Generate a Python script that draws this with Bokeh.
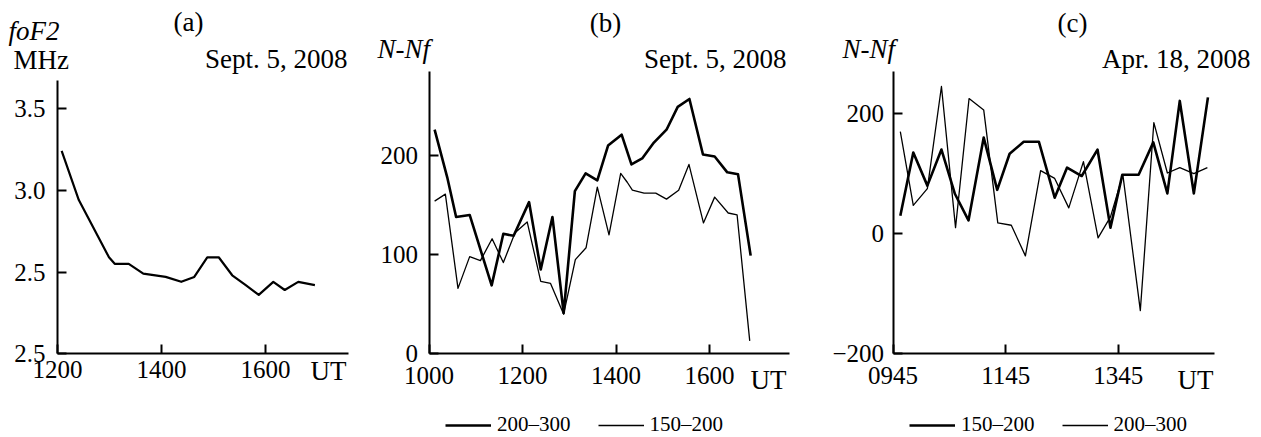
from bokeh.plotting import figure
from bokeh.layouts import row
from bokeh.models import Label, Legend, LegendItem, FixedTicker, Range1d
from bokeh.embed import file_html
from bokeh.resources import INLINE

FONT = "Liberation Serif"

# ---------------- data ----------------
# Panel (a): foF2, Sept. 5, 2008 (time in decimal hours UT)
a_time = [12.08, 12.41, 12.99, 13.10, 13.37, 13.65, 14.08, 14.38, 14.63, 14.88,
          15.10, 15.36, 15.62, 15.87, 16.15, 16.37, 16.63, 16.95]
a_fof2 = [3.24, 2.94, 2.59, 2.55, 2.55, 2.49, 2.47, 2.44, 2.47, 2.59,
          2.59, 2.48, 2.42, 2.36, 2.44, 2.39, 2.44, 2.42]
a_xticks = [12, 14, 16]
a_xlabels = ["1200", "1400", "1600"]
a_yticks = [2.0, 2.5, 3.0, 3.5]
a_ylabels = ["2.5", "2.5", "3.0", "3.5"]

# Panel (b): N-Nf, Sept. 5, 2008
b_time_200_300 = [10.12, 10.39, 10.58, 10.87, 11.34, 11.59, 11.81, 12.14, 12.39, 12.64,
                  12.88, 13.12, 13.35, 13.60, 13.83, 14.12, 14.33, 14.56, 14.81, 15.08,
                  15.32, 15.57, 15.86, 16.11, 16.38, 16.61, 16.88]
b_val_200_300 = [226, 178, 138, 140, 69, 121, 119, 153, 85, 138,
                 41, 164, 182, 175, 210, 221, 191, 197, 213, 226,
                 249, 257, 201, 199, 183, 181, 99]
b_time_150_200 = [10.12, 10.35, 10.62, 10.87, 11.10, 11.35, 11.59, 11.84, 12.10, 12.39,
                  12.60, 12.88, 13.13, 13.36, 13.60, 13.85, 14.10, 14.24, 14.35, 14.60,
                  14.85, 15.08, 15.34, 15.56, 15.87, 16.11, 16.40, 16.59, 16.86]
b_val_150_200 = [154, 161, 66, 98, 94, 116, 92, 122, 133, 73,
                 71, 40, 95, 107, 168, 120, 182, 173, 165, 162,
                 162, 156, 165, 191, 132, 158, 142, 140, 13]
b_xticks = [10, 12, 14, 16]
b_xlabels = ["1000", "1200", "1400", "1600"]
b_yticks = [0, 100, 200]
b_ylabels = ["0", "100", "200"]

# Panel (c): N-Nf, Apr. 18, 2008
c_time_150_200 = [9.88, 10.11, 10.36, 10.61, 10.85, 11.09, 11.36, 11.60, 11.82, 12.07,
                  12.34, 12.62, 12.84, 13.10, 13.38, 13.61, 13.82, 14.11, 14.37, 14.62,
                  14.84, 15.09, 15.34]
c_val_150_200 = [30, 135, 80, 140, 66, 22, 160, 73, 133, 153,
                 153, 60, 110, 96, 140, 10, 98, 98, 152, 67,
                 221, 67, 227]
c_time_200_300 = [9.88, 10.11, 10.36, 10.61, 10.86, 11.10, 11.36, 11.61, 11.85, 12.10,
                  12.37, 12.62, 12.87, 13.13, 13.39, 13.61, 13.83, 14.14, 14.38, 14.62,
                  14.84, 15.09, 15.33]
c_val_200_300 = [170, 47, 75, 245, 10, 225, 206, 18, 14, -37,
                 105, 92, 43, 120, -7, 28, 98, -128, 185, 101,
                 110, 100, 110]
c_xticks = [9.75, 11.75, 13.75]
c_xlabels = ["0945", "1145", "1345"]
c_yticks = [-200, 0, 200]
c_ylabels = ["\u2212200", "0", "200"]

THICK = 2.6
THIN = 1.3
FIG_H = 437
TEXT_SHIFT = 9   # compensates the renderer's baseline placement


def make_fig(width, xb, yb, px_left, px_right, px_top, px_bottom):
    """Figure whose frame fills the canvas; axes are placed at the data origin
    and bounded, so that the axis box occupies [px_left, px_right] x [px_top, px_bottom]."""
    sx = (px_right - px_left) / (xb[1] - xb[0])
    sy = (px_bottom - px_top) / (yb[1] - yb[0])
    xs = xb[0] - px_left / sx
    ys = yb[0] - (FIG_H - px_bottom) / sy
    p = figure(width=width, height=FIG_H,
               x_range=Range1d(xs, xs + width / sx), y_range=Range1d(ys, ys + FIG_H / sy),
               min_border=0, output_backend="svg", toolbar_location=None)
    p.outline_line_color = None
    p.xgrid.visible = False
    p.ygrid.visible = False
    p.xaxis.fixed_location = yb[0]
    p.yaxis.fixed_location = xb[0]
    p.xaxis.bounds = xb
    p.yaxis.bounds = yb
    return p


def style(p, xticks, xlabels, yticks, ylabels, xstand, ystand):
    for ax in (p.xaxis[0], p.yaxis[0]):
        ax.axis_line_width = 2
        ax.axis_line_color = "black"
        ax.major_tick_line_width = 2
        ax.major_tick_line_color = "black"
        ax.major_tick_in = 9
        ax.major_tick_out = 0
        ax.minor_tick_line_color = None
        ax.major_label_text_font = FONT
        ax.major_label_text_font_size = "25px"
        ax.major_label_text_color = "black"
    p.xaxis[0].ticker = FixedTicker(ticks=xticks)
    p.xaxis[0].major_label_overrides = {t: l for t, l in zip(xticks, xlabels)}
    p.yaxis[0].ticker = FixedTicker(ticks=yticks)
    p.yaxis[0].major_label_overrides = {t: l for t, l in zip(yticks, ylabels)}
    p.xaxis[0].major_label_standoff = xstand
    p.yaxis[0].major_label_standoff = ystand


def txt(p, x, y_top, text, size="27px", align="left", italic=False):
    p.add_layout(Label(x=x, y=FIG_H - y_top + TEXT_SHIFT, x_units="screen", y_units="screen",
                       text=text, text_font=FONT, text_font_size=size, text_align=align,
                       text_baseline="alphabetic", text_color="black",
                       text_font_style="italic" if italic else "normal"))


def legend(p, items, x):
    lg = Legend(items=[LegendItem(label=l, renderers=[r]) for l, r in items],
                orientation="horizontal", location=(x, 0))
    lg.background_fill_alpha = 0
    lg.border_line_alpha = 0
    lg.glyph_width = 46
    lg.glyph_height = 20
    lg.label_height = 20
    lg.label_standoff = 6
    lg.spacing = 27
    lg.padding = 0
    lg.margin = 0
    lg.label_text_font = FONT
    lg.label_text_font_size = "21px"
    lg.label_text_color = "black"
    p.add_layout(lg, "center")


# ---------------- panel (a) ----------------
fa = make_fig(365, (12, 17.6), (2.0, 3.67), 57, 348.2, 80.1, 353.3)
fa.line(a_time, a_fof2, line_color="black", line_width=2.2, line_join="round")
style(fa, a_xticks, a_xlabels, a_yticks, a_ylabels, 7, 12)
txt(fa, 188, 30, "(a)", align="center")
txt(fa, 8, 39, "foF2", italic=True)
txt(fa, 13, 68, "MHz")
txt(fa, 347, 67.5, "Sept. 5, 2008", align="right")
txt(fa, 328, 379, "UT", align="center")

# ---------------- panel (b) ----------------
fb = make_fig(455, (10, 17.7), (0, 284.7), 63.5, 423.5, 71, 353.3)
rb1 = fb.line(b_time_200_300, b_val_200_300, line_color="black", line_width=THICK, line_join="round")
rb2 = fb.line(b_time_150_200, b_val_150_200, line_color="black", line_width=THIN, line_join="round")
style(fb, b_xticks, b_xlabels, b_yticks, b_ylabels, 13, 11)
txt(fb, 240, 31, "(b)", align="center")
txt(fb, 12, 57, "N-Nf", italic=True)
txt(fb, 421, 67, "Sept. 5, 2008", align="right")
txt(fb, 403, 388, "UT", align="center")
legend(fb, [("200\u2013300", rb1), ("150\u2013200", rb2)], 80)

# ---------------- panel (c) ----------------
fc = make_fig(441, (9.75, 15.46), (-200, 270), 72.5, 394.2, 71, 353.3)
rc1 = fc.line(c_time_150_200, c_val_150_200, line_color="black", line_width=THICK, line_join="round")
rc2 = fc.line(c_time_200_300, c_val_200_300, line_color="black", line_width=THIN, line_join="round")
style(fc, c_xticks, c_xlabels, c_yticks, c_ylabels, 13, 9)
txt(fc, 252, 31, "(c)", align="center")
txt(fc, 22, 57, "N-Nf", italic=True)
txt(fc, 430, 67, "Apr. 18, 2008", align="right")
txt(fc, 375, 388, "UT", align="center")
legend(fc, [("150\u2013200", rc1), ("200\u2013300", rc2)], 89)

layout = row(fa, fb, fc)
open("out.html", "w").write(file_html(layout, INLINE))
